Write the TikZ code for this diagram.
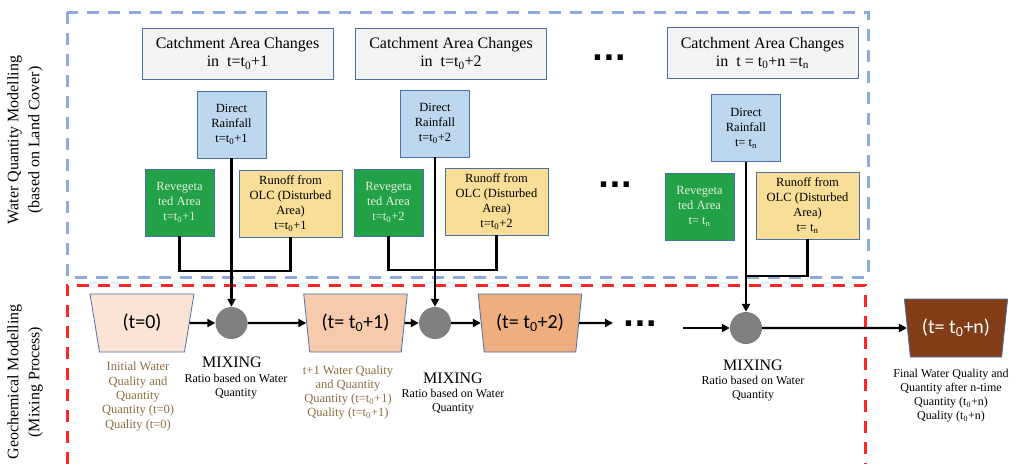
\documentclass[tikz,border=0pt]{standalone}
\usepackage{fontspec}
\setmainfont{Liberation Serif}
\newfontfamily\calfont{Carlito}
\newfontfamily\dotfont{DejaVu Sans}
\usetikzlibrary{shapes.geometric,arrows.meta}

\definecolor{boxline}{HTML}{4A6FA5}
\definecolor{catchfill}{HTML}{F2F3F2}
\definecolor{rainfill}{HTML}{BDD7EE}
\definecolor{revegfill}{HTML}{22A146}
\definecolor{revegtext}{HTML}{E4F0E4}
\definecolor{runfill}{HTML}{F9DE97}
\definecolor{qtyblue}{HTML}{8FAADC}
\definecolor{geored}{HTML}{FF2626}
\definecolor{notebrown}{HTML}{8C6E3E}
\definecolor{stageA}{HTML}{FBE4D6}
\definecolor{stageB}{HTML}{F7CAAC}
\definecolor{stageC}{HTML}{EEAE80}
\definecolor{stageD}{HTML}{823D17}

\begin{document}
\begin{tikzpicture}[x=1pt,y=-1pt,
    catchbox/.style={draw=boxline, line width=0.8pt, fill=catchfill, minimum width=191pt, minimum height=51pt, inner sep=0pt, align=center, font=\fontsize{16}{18}\selectfont},
    smallbox/.style={draw=boxline, line width=0.8pt, minimum height=67pt, inner sep=0pt, align=center, font=\fontsize{12.5}{15}\selectfont},
    rainbox/.style={smallbox, fill=rainfill, minimum width=69pt},
    revegbox/.style={smallbox, fill=revegfill, text=revegtext, minimum width=69pt},
    runbox/.style={smallbox, fill=runfill, minimum width=103pt},
    stage/.style={trapezium, shape border rotate=180, trapezium left angle=76, trapezium right angle=76, trapezium stretches=true, minimum width=104pt, minimum height=58pt, inner sep=0pt, draw=boxline, line width=0.8pt, font=\calfont\fontsize{20}{24}\selectfont},
    mixer/.style={circle, fill=black!50, minimum size=32pt, inner sep=0pt},
    mixtitle/.style={font=\fontsize{16}{18}\selectfont},
    mixnote/.style={align=center, font=\fontsize{12}{14}\selectfont},
    stagenote/.style={align=center, text=notebrown, font=\fontsize{12.5}{14.3}\selectfont},
    sidelabel/.style={rotate=90, align=center, font=\fontsize{16}{21}\selectfont},
    dots/.style={font=\dotfont\bfseries\fontsize{30}{30}\selectfont, inner sep=0pt},
    link/.style={line width=2.4pt},
    flow/.style={line width=2.4pt, -{Triangle[length=8pt,width=8pt]}},
  ]
  \useasboundingbox (0,0) rectangle (1021,464);

  % Frames
  \draw[qtyblue, line width=3pt, dash pattern=on 12pt off 9pt] (67,12) rectangle (868,277);
  \draw[geored, line width=3pt, dash pattern=on 12pt off 9pt] (67,464) -- (67,285) -- (865,285) -- (865,464);
  \node[sidelabel] (qtylabel) at (25,140) {Water Quantity Modelling\\(based on Land Cover)};
  \node[sidelabel] (geolabel) at (25,382) {Geochemical Modelling\\(Mixing Process)};

  % Catchment changes (top row)
  \node[catchbox] (ca1) at (237.5,53.5) {Catchment Area Changes\\in~~t=t\textsubscript{0}+1};
  \node[catchbox] (ca2) at (451,53.5) {Catchment Area Changes\\in~~t=t\textsubscript{0}+2};
  \node[catchbox] (ca3) at (762.5,53) {Catchment Area Changes\\in~~t = t\textsubscript{0}+n =t\textsubscript{n}};
  \node[dots] (dotsA) at (609,58) {...};

  % Sources for each step
  \node[rainbox] (rd1) at (231.5,124.5) {Direct\\Rainfall\\t=t\textsubscript{0}+1};
  \node[revegbox] (rv1) at (179.5,202.5) {Revegeta\\ted Area\\t=t\textsubscript{0}+1};
  \node[runbox] (ro1) at (290.5,203.5) {Runoff from\\OLC (Disturbed\\Area)\\t=t\textsubscript{0}+1};

  \node[rainbox] (rd2) at (435,123.5) {Direct\\Rainfall\\t=t\textsubscript{0}+2};
  \node[revegbox] (rv2) at (388.5,202.5) {Revegeta\\ted Area\\t=t\textsubscript{0}+2};
  \node[runbox] (ro2) at (496.5,201.5) {Runoff from\\OLC (Disturbed\\Area)\\t=t\textsubscript{0}+2};

  \node[dots] (dotsB) at (615,185) {...};

  \node[rainbox] (rd3) at (746,128) {Direct\\Rainfall\\t= t\textsubscript{n}};
  \node[revegbox] (rv3) at (699.5,206.5) {Revegeta\\ted Area\\t= t\textsubscript{n}};
  \node[runbox] (ro3) at (807.5,205.5) {Runoff from\\OLC (Disturbed\\Area)\\t= t\textsubscript{n}};

  % Mixing row
  \node[stage, fill=stageA] (st0) at (142,323) {(t=0)};
  \node[mixer] (mx1) at (231.5,323) {};
  \node[stage, fill=stageB] (st1) at (355.5,323) {(t= t\textsubscript{0}+1)};
  \node[mixer] (mx2) at (435,323) {};
  \node[stage, fill=stageC] (st2) at (530,323) {(t= t\textsubscript{0}+2)};
  \coordinate (gapL) at (613,323);
  \node[dots] (dotsC) at (640,324) {...};
  \coordinate (gapR) at (683,328);
  \node[mixer] (mx3) at (746,328) {};
  \node[stage, fill=stageD, text=white] (stn) at (956,328) {(t= t\textsubscript{0}+n)};

  % Junctions of the sources
  \coordinate (j1) at (231.5,271);
  \coordinate (j2) at (435,270);
  \coordinate (j3) at (746,276);
  \draw[link] (rv1.south) -- (rv1.south |- j1) -- (ro1.south |- j1) -- (ro1.south);
  \draw[link] (rv2.south) -- (rv2.south |- j2) -- (ro2.south |- j2) -- (ro2.south);
  \draw[link] (ro3.south) -- (ro3.south |- j3) -- (j3);
  \draw[flow] (rd1.south) -- (mx1.north);
  \draw[flow] (rd2.south) -- (mx2.north);
  \draw[flow] (rd3.south) -- (mx3.north);

  % Flow through the stages
  \draw[flow] (st0.east) -- (mx1.west);
  \draw[flow] (mx1.east) -- (st1.west);
  \draw[flow] (st1.east) -- (mx2.west);
  \draw[flow] (mx2.east) -- (st2.west);
  \draw[flow] (st2.east) -- (gapL);
  \draw[flow] (gapR) -- (mx3.west);
  \draw[flow] (mx3.east) -- (stn.west);

  % Labels
  \node[mixtitle] (mt1) at (232,362) {MIXING};
  \node[mixnote] (mn1) at (236,387) {Ratio based on Water\\Quantity};
  \node[mixtitle] (mt2) at (453,378) {MIXING};
  \node[mixnote] (mn2) at (453,402) {Ratio based on Water\\Quantity};
  \node[mixtitle] (mt3) at (753,365) {MIXING};
  \node[mixnote] (mn3) at (753,389) {Ratio based on Water\\Quantity};
  \node[stagenote] (sn0) at (138,396.5) {Initial Water\\Quality and\\Quantity\\Quantity (t=0)\\Quality (t=0)};
  \node[stagenote] (sn1) at (348,392.5) {t+1 Water Quality\\and Quantity\\Quantity (t=t\textsubscript{0}+1)\\Quality (t=t\textsubscript{0}+1)};
  \node[mixnote] (snn) at (951,395.5) {Final Water Quality and\\Quantity after n-time\\Quantity (t\textsubscript{0}+n)\\Quality (t\textsubscript{0}+n)};

\end{tikzpicture}
\end{document}
